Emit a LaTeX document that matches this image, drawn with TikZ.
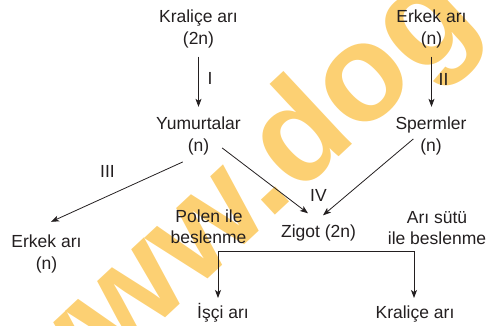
\documentclass[tikz,border=0pt]{standalone}
\usepackage{fontspec}
\setmainfont{Liberation Sans}
\usetikzlibrary{arrows.meta,calc}
\definecolor{txt}{RGB}{35,31,32}
\definecolor{wm}{RGB}{252,208,115}
\tikzset{
  lbl/.style={anchor=base,inner sep=0pt,outer sep=0pt,text=txt,font=\fontsize{17.5}{21}\selectfont},
  rom/.style={anchor=center,inner sep=0pt,outer sep=0pt,text=txt,font=\fontsize{17.5}{21}\selectfont},
  arr/.style={draw=txt,line width=0.8pt,-{Stealth[length=8pt,width=6pt,inset=2pt]}},
  ln/.style={draw=txt,line width=0.8pt}
}
\begin{document}
\begin{tikzpicture}[x=1pt,y=-1pt]
\useasboundingbox (0,0) rectangle (490,326);
\begin{scope}
\clip (0,0) rectangle (490,326);
\node[anchor=base west,inner sep=0pt,rotate=43,text=wm,font=\fontsize{138}{138}\bfseries\selectfont] (wmk) at (37,438) {www.dog};
\end{scope}
% nodes
\node[lbl] (KQ1) at (198.5,23) {Kraliçe arı};
\node[lbl] (KQ2) at (198.5,45) {(2n)};
\node[lbl] (EA1) at (431.5,23) {Erkek arı};
\node[lbl] (EA2) at (431.5,45) {(n)};
\node[lbl] (YU1) at (198.5,130) {Yumurtalar};
\node[lbl] (YU2) at (198.5,152) {(n)};
\node[lbl] (SP1) at (431,130) {Spermler};
\node[lbl] (SP2) at (431,152) {(n)};
\node[lbl] (EL1) at (46.5,247) {Erkek arı};
\node[lbl] (EL2) at (46.5,269) {(n)};
\node[lbl] (ZI) at (318.5,237) {Zigot (2n)};
\node[lbl] (PO1) at (209,222) {Polen ile};
\node[lbl] (PO2) at (208.5,243) {beslenme};
\node[lbl] (AR1) at (437,223) {Arı sütü};
\node[lbl] (AR2) at (437,244) {ile beslenme};
\node[lbl] (IS) at (223,318) {İşçi arı};
\node[lbl] (KB) at (415,318) {Kraliçe arı};
\node[rom] (LI) at (210,78.5) {I};
\node[rom] (LII) at (443.5,79) {II};
\node[rom] (LIII) at (107.5,171.5) {III};
\node[rom] (LIV) at (318.5,195.5) {IV};
% connectors
\draw[arr,shorten <=8pt,shorten >=10.5pt] (KQ2.south) -- (KQ2.south |- YU1.north);
\draw[arr,shorten <=8pt,shorten >=10.5pt] (EA2.south) -- (EA2.south |- SP1.north);
\draw[arr] ($(YU2.east)+(13,0.5)$) -- ($(ZI.north)+(-10.5,-11)$);
\draw[arr] ($(SP2.west)+(-7,-8.5)$) -- ($(ZI.north)+(4.5,-9)$);
\draw[arr] ($(YU2.south west)+(-5,6.3)$) -- ($(EL1.north)+(4.5,-12.5)$);
\coordinate (br) at ($(ZI.south)+(0,10.5)$);
\coordinate (tipL) at ($(IS.base)+(-5,-20)$);
\coordinate (tipR) at ($(KB.base)+(-1,-20)$);
\draw[arr] (br) -| (tipL);
\draw[arr] (br) -| (tipR);
\end{tikzpicture}
\end{document}
